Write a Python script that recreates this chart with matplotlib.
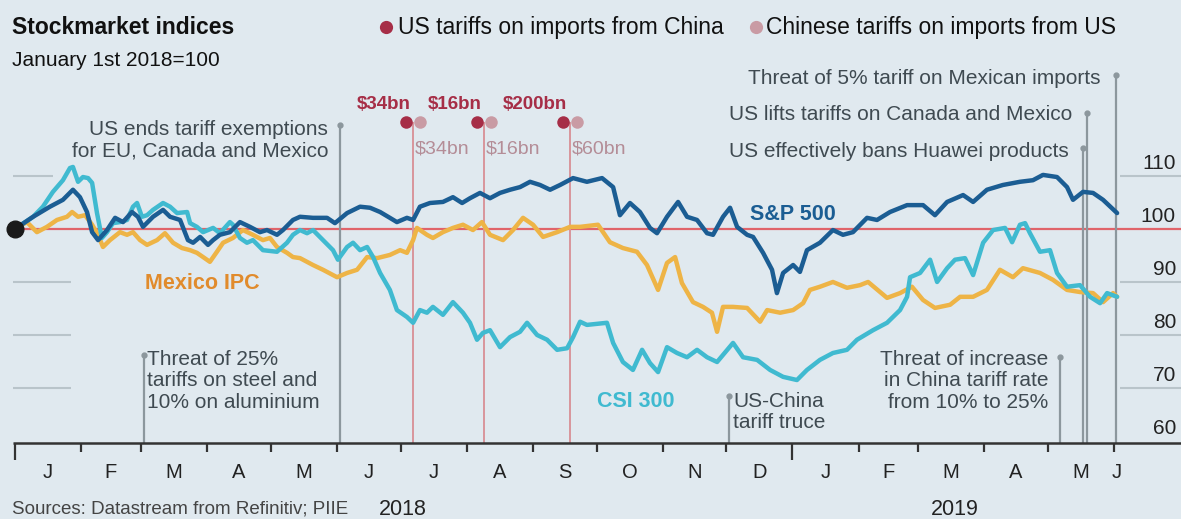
import matplotlib
matplotlib.use("Agg")
import matplotlib.pyplot as plt
import matplotlib.transforms as mtransforms
import pandas as pd

plt.rcParams["font.family"] = ["Liberation Sans", "DejaVu Sans"]

# (days since January 1st 2018, index with January 1st 2018 = 100)
sp_500 = [
    (0, 100), (8.5, 102.3), (16.4, 104.2), (22.5, 105.5), (27.2, 107.4), (30.5, 106.0),
    (33.8, 103.2), (36.2, 99.4), (39, 97.9), (43.2, 99.8), (47, 102.1), (50.7, 101.3),
    (54.9, 103.2), (57.7, 102.3), (60.1, 100.4), (64.8, 102.3), (69.5, 103.6), (72.8, 102.3),
    (77.5, 101.7), (81.2, 97.9), (83.6, 97.4), (86.9, 98.5), (90.6, 97.0), (93, 97.9),
    (96.2, 98.9), (100.9, 99.4), (105.6, 101.3), (110.3, 100.4), (115, 99.4), (118.3, 99.8),
    (123, 98.9), (125.8, 99.8), (130.5, 101.7), (133.8, 102.3), (139.9, 102.1), (146.5, 102.1),
    (150.2, 101.1), (155.9, 103.0), (162, 104.2), (166.7, 104.0), (171.4, 103.2), (176, 102.1),
    (179.3, 101.3), (184, 102.1), (186.9, 101.7), (190.1, 104.2), (194.8, 104.9), (200.9, 105.1),
    (205.6, 106.0), (209.9, 104.9), (213.6, 105.8), (218.3, 106.8), (223, 105.8), (227.7, 106.8),
    (232.4, 107.4), (237.1, 107.9), (241.8, 108.9), (246.5, 108.3), (251.2, 107.4), (255.9, 108.3),
    (262, 109.6), (268.5, 108.9), (275.6, 109.6), (280.8, 107.9), (284, 102.6), (288.7, 104.9),
    (293.4, 103.2), (298.1, 100.2), (301.4, 99.2), (306.1, 102.3), (311.3, 105.1), (315.5, 102.3),
    (320.2, 101.7), (324.9, 99.2), (327.7, 98.9), (332.4, 102.3), (335.7, 104.0), (339, 100.4),
    (343.7, 98.9), (346.5, 98.5), (351.2, 95.5), (355.4, 92.3), (357.7, 87.9), (360.6, 91.7),
    (365.3, 93.2), (368.5, 91.9), (371.8, 96.0), (377.9, 97.4), (384, 99.8), (388.7, 98.9),
    (393.4, 99.4), (400, 102.1), (404.7, 101.7), (410.8, 103.2), (418.8, 104.5), (426.3, 104.5),
    (431.9, 102.6), (437.6, 105.1), (445.1, 106.4), (449.8, 105.1), (456.3, 107.4), (463.8, 108.3),
    (471.8, 108.9), (477.9, 109.2), (482.6, 110.2), (489.2, 109.8), (493.9, 107.9), (496.7, 105.5),
    (501.4, 107.0), (506.1, 106.8), (510.8, 105.5), (517.4, 103.0),
]

mexico_ipc = [
    (0, 100), (5.6, 101.3), (10.3, 99.4), (15, 100.4), (19.7, 101.7), (24.4, 102.3),
    (26.8, 103.2), (29.6, 102.3), (32.9, 102.6), (36.2, 100.8), (39, 98.9), (41.3, 96.6),
    (44.6, 97.9), (49.3, 99.4), (52.6, 98.9), (55.4, 99.4), (58.7, 97.9), (62, 97.0),
    (66.7, 97.9), (70.4, 99.2), (74.2, 97.4), (78.4, 96.4), (82.2, 96.0), (85.4, 95.5),
    (88.3, 94.7), (91.5, 93.8), (94.8, 95.7), (97.7, 97.4), (102.3, 98.3), (107, 99.8),
    (111.7, 98.9), (116.4, 97.9), (119.7, 98.3), (123, 96.6), (127.7, 95.5), (130.5, 94.7),
    (133.8, 94.5), (139.9, 93.2), (144.6, 92.3), (151.2, 90.9), (155.9, 91.7), (160.6, 92.3),
    (165.3, 94.7), (170, 94.5), (176, 95.1), (180.8, 96.0), (184, 95.5), (186.9, 97.9),
    (188.7, 100.2), (193.4, 98.9), (196.2, 98.3), (200.9, 99.4), (205.6, 100.2), (210.3, 100.8),
    (215, 99.8), (219.2, 101.3), (223, 98.9), (229.1, 97.9), (233.8, 99.8), (238.5, 102.1),
    (243.2, 100.8), (247.9, 98.5), (254.5, 99.4), (260.6, 100.4), (265.3, 100.4), (273.7, 100.8),
    (279.3, 97.5), (285.4, 96.4), (292, 95.7), (296.7, 93.2), (301.9, 88.5), (306.1, 93.6),
    (309.9, 94.7), (313.1, 89.8), (318.3, 86.2), (323, 85.3), (327.2, 84.2), (329.6, 80.6),
    (332.4, 85.3), (337.1, 85.3), (343.7, 85.1), (349.8, 82.5), (353.1, 84.7), (359.2, 84.2),
    (365.3, 84.7), (370, 86.0), (373.2, 88.5), (377.9, 89.1), (384, 90.0), (390.6, 88.9),
    (396.7, 89.4), (400.5, 90.0), (409.4, 87.0), (415.5, 87.9), (421.1, 89.1), (426.3, 86.6),
    (431.9, 85.1), (439, 85.7), (443.7, 87.2), (449.8, 87.2), (456.3, 88.5), (462.4, 92.3),
    (468.5, 90.9), (473.2, 92.6), (481.2, 91.7), (487.3, 90.4), (493.9, 88.5), (500, 88.1),
    (506.1, 87.9), (510.8, 86.2), (515.5, 87.9), (517.4, 87.2),
]

csi_300 = [
    (0, 100), (8.5, 102.3), (13.1, 104.2), (17.8, 107.0), (22.5, 109.2), (25.8, 111.5),
    (27.2, 111.7), (29.6, 108.9), (31.9, 109.8), (34.3, 109.6), (36.2, 108.7), (38.5, 103.0),
    (40.8, 98.3), (43.2, 99.4), (46, 101.1), (49.3, 101.3), (52.6, 101.7), (55.4, 104.2),
    (57.3, 104.9), (59.6, 102.3), (62, 102.6), (64.8, 103.6), (69.5, 104.9), (72.8, 104.2),
    (76.1, 103.0), (80.8, 103.2), (82.2, 101.1), (85.4, 100.4), (88.3, 99.4), (93, 100.2),
    (96.2, 99.2), (100.9, 101.3), (102.3, 100.8), (105.6, 98.3), (108.9, 97.4), (111.7, 97.9),
    (116.4, 96.0), (123, 95.7), (127.7, 97.4), (130.5, 98.9), (133.8, 99.8), (137.1, 99.2),
    (139.9, 99.8), (144.6, 97.9), (149.3, 96.0), (151.6, 94.2), (155.9, 96.6), (158.7, 97.4),
    (162, 96.0), (165.3, 96.6), (168.1, 94.7), (171.4, 91.7), (176, 88.5), (179.3, 84.7),
    (184, 83.4), (186.9, 82.3), (190.1, 84.7), (193.4, 84.2), (196.2, 85.3), (200.9, 83.8),
    (205.6, 86.2), (210.3, 84.2), (213.6, 82.3), (216.9, 79.1), (219.7, 80.4), (223, 80.9),
    (227.7, 77.7), (232.4, 79.6), (237.1, 80.6), (240.4, 82.3), (245.1, 80.0), (249.8, 79.1),
    (254.5, 77.2), (259.2, 77.5), (262, 79.6), (265.3, 82.5), (268.5, 81.9), (277.9, 82.3),
    (280.8, 78.5), (285.4, 74.9), (290.1, 73.4), (294.4, 77.2), (298.1, 74.7), (301.9, 73.0),
    (306.1, 77.7), (310.8, 76.6), (315.5, 75.8), (320.2, 77.2), (324.9, 75.8), (329.6, 74.9),
    (337.1, 78.5), (341.8, 75.8), (348.4, 75.3), (354.5, 73.4), (360.6, 72.1), (367.1, 71.5),
    (371.8, 73.4), (377.9, 75.3), (384, 76.6), (390.6, 77.2), (395.3, 79.1), (402.8, 80.9),
    (409.4, 82.3), (415.5, 84.7), (418.8, 87.2), (420.2, 90.9), (424.9, 91.7), (429.6, 94.2),
    (432.9, 90.0), (437.6, 92.6), (441.3, 94.2), (446, 94.5), (449.8, 91.3), (454.5, 97.4),
    (459.2, 99.8), (464.8, 100.2), (468.1, 97.5), (471.8, 100.8), (474.2, 101.1), (476.5, 99.2),
    (481.2, 95.7), (485.9, 96.0), (489.2, 91.7), (493.9, 89.1), (500, 89.4), (504.7, 87.2),
    (509.4, 86.0), (512.7, 87.9), (517.4, 87.2),
]

# tariff rounds: day, US label, Chinese label
tariff_days = [186.9, 220.2, 260.6]
us_tariffs = ["$34bn", "$16bn", "$200bn"]
china_tariffs = ["$34bn", "$16bn", "$60bn"]

# other events: day, top of marker line
event_days = [60.6, 152.6, 335.2, 490.6, 501.4, 503.3, 516.9]
event_tops = [76.2, 119.6, 68.5, 75.8, 115.3, 121.9, 129.1]

y_ticks = [110, 100, 90, 80, 70, 60]

# colours
BG = "#e0e9ef"
SP_BLUE = "#1b5d93"
CSI_CYAN = "#40bad0"
MX_LINE = "#eeb446"
MX_TEXT = "#e18b2c"
RED = "#e0646a"
US_RED = "#a62e47"
CN_PINK = "#c99ba4"
TARIFF_LINE = "#d8959b"
GREY = "#8c979d"
TEXT = "#3f4a51"

W, H = 1181, 519
fig = plt.figure(figsize=(W / 100, H / 100), dpi=100)
fig.patch.set_facecolor(BG)
ax = fig.add_axes([0, 0, 1, 1])
ax.set_facecolor(BG)
ax.set_xlim(-7.04, 547.4)
ax.set_ylim(45.28, 143.2)
ax.axis("off")


def fx(px):
    return px / W


def fy(py):
    return 1 - py / H


ytrans = ax.get_yaxis_transform()

# gridlines (only at the edges) and 100 line
for v in [110, 90, 80, 70]:
    ax.hlines(v, fx(13), fx(53 if v == 110 else 71), transform=ytrans, color="#b9c4ca", lw=1.5, zorder=1)
    ax.hlines(v, fx(1120), 1, transform=ytrans, color="#b9c4ca", lw=1.5, zorder=1)
ax.hlines(100, fx(15), 1, transform=ytrans, color=RED, lw=1.6, zorder=2)
for v in y_ticks:
    ax.text(fx(1176), v + 1.35, str(v), transform=ytrans, ha="right", va="baseline",
            fontsize=15, color="#222222")

# x axis with month ticks
base = pd.Timestamp("2018-01-01")
months = pd.date_range("2018-01-01", "2019-06-01", freq="MS")
month_days = [(m - base).days for m in months]
ax.hlines(59.6, fx(13), 1, transform=ytrans, color="#333333", lw=1.8, zorder=6)
for m, d in zip(months, month_days):
    length = 3.2 if m.month == 1 else 1.7
    ax.vlines(d, 59.6 - length, 59.6, color="#333333", lw=1.6, zorder=6)
    mid = min(d + m.days_in_month / 2, 517)
    ax.text(mid, 53.0, m.strftime("%b")[0], ha="center", va="baseline", fontsize=14.5, color="#222222")
for year in [2018, 2019]:
    yd = [d for m, d in zip(months, month_days) if m.year == year]
    ax.text((yd[0] + min(yd[-1] + 30, 517)) / 2, 46.0, str(year), ha="center", va="baseline",
            fontsize=15.5, color="#222222")

# event marker lines
ax.vlines(event_days, 59.6, event_tops, color=GREY, lw=1.6, zorder=2)
ax.plot(event_days, event_tops, "o", color=GREY, ms=3.5, zorder=2)

# tariff lines and dots
dot_v = 120.2
ax.vlines(tariff_days, 59.6, dot_v, color=TARIFF_LINE, lw=1.4, zorder=2)
left = mtransforms.offset_copy(ax.transData, fig=fig, x=-5, y=0, units="points")
right = mtransforms.offset_copy(ax.transData, fig=fig, x=5, y=0, units="points")
ax.plot(tariff_days, [dot_v] * 3, "o", color=CN_PINK, ms=9, mec="none", transform=right, zorder=7)
ax.plot(tariff_days, [dot_v] * 3, "o", color=US_RED, ms=9, mec="none", transform=left, zorder=8)
lab_l = mtransforms.offset_copy(ax.transData, fig=fig, x=-2, y=0, units="points")
lab_r = mtransforms.offset_copy(ax.transData, fig=fig, x=1.5, y=0, units="points")
for d, us, cn in zip(tariff_days, us_tariffs, china_tariffs):
    ax.text(d, 122.6, us, transform=lab_l, ha="right", va="baseline", fontsize=13.5,
            fontweight="bold", color=US_RED)
    ax.text(d, 114.2, cn, transform=lab_r, ha="left", va="baseline", fontsize=14, color="#b48d97")

# series
for data, col, z in [(mexico_ipc, MX_LINE, 3), (csi_300, CSI_CYAN, 4), (sp_500, SP_BLUE, 5)]:
    days, vals = zip(*data)
    ax.plot(days, vals, color=col, lw=3.2, solid_joinstyle="round", solid_capstyle="round", zorder=z)
ax.plot(0, 100, "o", color="#1a1a1a", ms=12, zorder=9, clip_on=False)

# series labels
fig.text(fx(750), fy(220), "S&P 500", fontsize=15.5, fontweight="bold", color=SP_BLUE)
fig.text(fx(145), fy(289), "Mexico IPC", fontsize=15.5, fontweight="bold", color=MX_TEXT)
fig.text(fx(597), fy(407), "CSI 300", fontsize=15.5, fontweight="bold", color=CSI_CYAN)

# event labels
fig.text(fx(328), fy(120), "US ends tariff exemptions\nfor EU, Canada and Mexico", ha="right", va="top",
         fontsize=15, color=TEXT, linespacing=1.15)
fig.text(fx(147), fy(350), "Threat of 25%\ntariffs on steel and\n10% on aluminium", ha="left", va="top",
         fontsize=15, color=TEXT, linespacing=1.15)
fig.text(fx(733), fy(392), "US-China\ntariff truce", ha="left", va="top",
         fontsize=15, color=TEXT, linespacing=1.15)
fig.text(fx(1048), fy(350), "Threat of increase\nin China tariff rate\nfrom 10% to 25%", ha="right", va="top",
         fontsize=15, color=TEXT, linespacing=1.15)
fig.text(fx(1101), fy(84), "Threat of 5% tariff on Mexican imports", ha="right", va="baseline",
         fontsize=15, color=TEXT)
fig.text(fx(1072), fy(120), "US lifts tariffs on Canada and Mexico", ha="right", va="baseline",
         fontsize=15, color=TEXT)
fig.text(fx(1069), fy(157), "US effectively bans Huawei products", ha="right", va="baseline",
         fontsize=15, color=TEXT)

# titles and legend
fig.text(fx(12), fy(34), "Stockmarket indices", fontsize=16.5, fontweight="bold", color="#111111")
fig.text(fx(12), fy(66), "January 1st 2018=100", fontsize=15, color="#111111")
fig.text(fx(398), fy(34), "US tariffs on imports from China", fontsize=16.5, color="#111111")
fig.text(fx(766), fy(34), "Chinese tariffs on imports from US", fontsize=16.5, color="#111111")
fig.lines.append(plt.Line2D([fx(386)], [fy(27)], marker="o", ms=9.5, color=US_RED, mec="none",
                            transform=fig.transFigure))
fig.lines.append(plt.Line2D([fx(756)], [fy(27)], marker="o", ms=9.5, color=CN_PINK, mec="none",
                            transform=fig.transFigure))
fig.text(fx(12), fy(513), "Sources: Datastream from Refinitiv; PIIE", fontsize=13.5, color="#444444")

fig.savefig("out.png", dpi=100, facecolor=BG)
